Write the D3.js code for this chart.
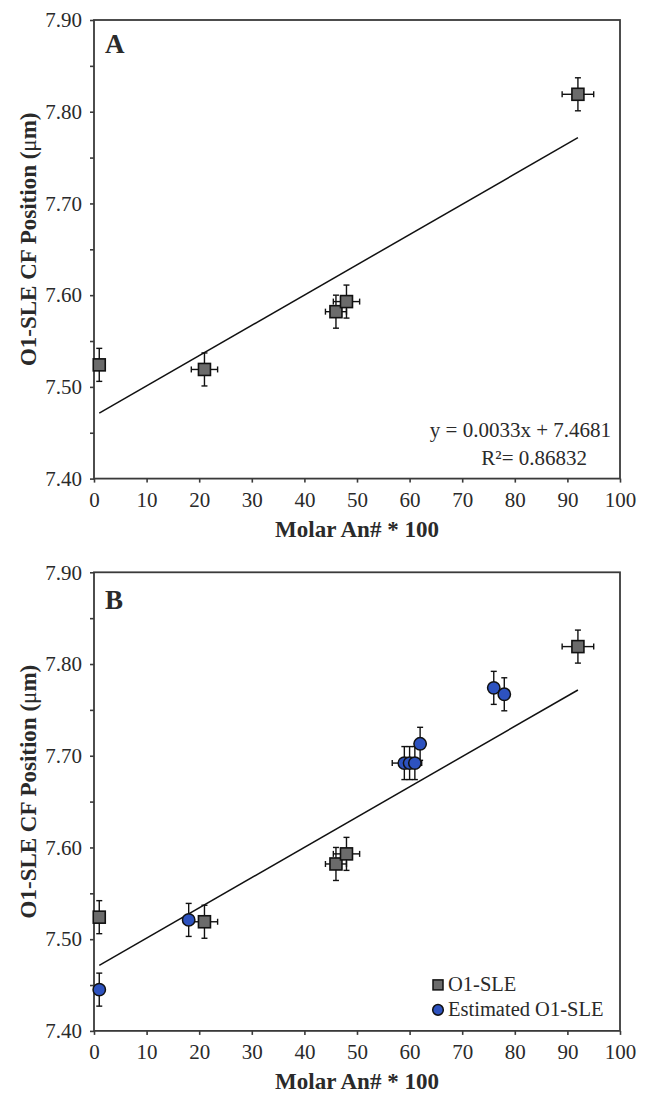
<!DOCTYPE html>
<html>
<head>
<meta charset="utf-8">
<script src="https://cdn.jsdelivr.net/npm/d3@7"></script>
<style>
  html, body { margin: 0; padding: 0; background: #fff; }
  svg { display: block; }
</style>
</head>
<body>
<div id="chart"></div>
<script>
// tick labels
var xTickValues = [0, 10, 20, 30, 40, 50, 60, 70, 80, 90, 100];
var yTickValues = [7.40, 7.50, 7.60, 7.70, 7.80, 7.90];
var yMinorValues = [7.45, 7.55, 7.65, 7.75, 7.85];

// measured O1-SLE (squares)
var measAn = [1, 21, 46, 48, 92];
var measPos = [7.524, 7.519, 7.582, 7.593, 7.819];
var measAnErr = [0, 2.5, 2, 2.5, 3];
var measPosErr = [0.018, 0.018, 0.018, 0.018, 0.018];

// estimated O1-SLE (circles, panel B only)
var estAn = [1, 18, 59, 60, 61, 62, 76, 78];
var estPos = [7.445, 7.521, 7.692, 7.692, 7.692, 7.713, 7.774, 7.767];
var estAnErr = [0, 0, 2.3, 0, 1.3, 0, 0, 0];
var estPosErr = [0.018, 0.018, 0.018, 0.018, 0.018, 0.018, 0.018, 0.018];

// linear fit y = 0.0033x + 7.4681, drawn from first to last measured An
var fitSlope = 0.0033;
var fitIntercept = 7.4681;
var fitRange = [1, 92];
var fitLabels = ["y = 0.0033x + 7.4681", "R\u00b2= 0.86832"];

var legendLabels = ["O1-SLE", "Estimated O1-SLE"];

var W = 649, H = 1094,
	left = 94, right = 620,
	plotH = 458.6,
	serif = "'Liberation Serif', 'Times New Roman', serif",
	axisColor = "#3a3a3a",
	sqFill = "#6b6b6b",
	ciFill = "#2d52bf";

var svg = d3.select("#chart").append("svg")
	.attr("width", W)
	.attr("height", H)
	.attr("font-family", serif);

var x = d3.scaleLinear().domain([0, 100]).range([left, right]);

function measRows() {
	return measAn.map(function (v, i) {
		return {x: v, y: measPos[i], ex: measAnErr[i], ey: measPosErr[i]};
	});
}
function estRows() {
	return estAn.map(function (v, i) {
		return {x: v, y: estPos[i], ex: estAnErr[i], ey: estPosErr[i]};
	});
}

function errorBars(g, rows, y) {
	var cap = 3;
	var eb = g.append("g")
		.attr("stroke", "#111")
		.attr("stroke-width", 1.4)
		.attr("fill", "none");
	rows.forEach(function (d) {
		var cx = x(d.x), cy = y(d.y);
		if (d.ey > 0) {
			var y0 = y(d.y - d.ey), y1 = y(d.y + d.ey);
			eb.append("line").attr("x1", cx).attr("x2", cx).attr("y1", y0).attr("y2", y1);
			eb.append("line").attr("x1", cx - cap).attr("x2", cx + cap).attr("y1", y0).attr("y2", y0);
			eb.append("line").attr("x1", cx - cap).attr("x2", cx + cap).attr("y1", y1).attr("y2", y1);
		}
		if (d.ex > 0) {
			var x0 = x(d.x - d.ex), x1 = x(d.x + d.ex);
			eb.append("line").attr("x1", x0).attr("x2", x1).attr("y1", cy).attr("y2", cy);
			eb.append("line").attr("x1", x0).attr("x2", x0).attr("y1", cy - cap).attr("y2", cy + cap);
			eb.append("line").attr("x1", x1).attr("x2", x1).attr("y1", cy - cap).attr("y2", cy + cap);
		}
	});
}

function drawPanel(top, letter, letterDy, withEstimated) {
	var bottom = top + plotH;
	var y = d3.scaleLinear().domain([7.40, 7.90]).range([bottom, top]);
	var g = svg.append("g");

	// y axis major + minor ticks
	var ya = g.append("g")
		.attr("transform", "translate(" + left + ",0)")
		.call(d3.axisLeft(y).tickValues(yTickValues).tickSize(4).tickPadding(8)
			.tickFormat(d3.format(".2f")));
	g.append("g")
		.attr("transform", "translate(" + left + ",0)")
		.call(d3.axisLeft(y).tickValues(yMinorValues).tickSize(4).tickFormat(""))
		.select(".domain").remove();

	var xa = g.append("g")
		.attr("transform", "translate(0," + bottom + ")")
		.call(d3.axisBottom(x).tickValues(xTickValues).tickSize(4).tickPadding(9)
			.tickFormat(d3.format("d")));

	[ya, xa].forEach(function (a) {
		a.select(".domain").remove();
		a.selectAll("text")
			.attr("font-family", serif)
			.attr("font-size", 21)
			.attr("fill", "#2a2a2a");
	});
	g.selectAll(".tick line").attr("stroke", axisColor).attr("stroke-width", 1.6);

	// frame
	g.append("rect")
		.attr("x", left).attr("y", top)
		.attr("width", right - left).attr("height", plotH)
		.attr("fill", "none")
		.attr("stroke", axisColor)
		.attr("stroke-width", 1.8);

	// axis titles
	g.append("text")
		.attr("x", (left + right) / 2)
		.attr("y", bottom + 58)
		.attr("text-anchor", "middle")
		.attr("font-weight", "bold")
		.attr("font-size", 23)
		.attr("fill", "#2a2a2a")
		.text("Molar An# * 100");

	var yt = g.append("text")
		.attr("transform", "translate(36," + ((top + bottom) / 2 - 10) + ") rotate(-90)")
		.attr("text-anchor", "middle")
		.attr("font-weight", "bold")
		.attr("font-size", 23)
		.attr("fill", "#2a2a2a");
	yt.append("tspan").text("O1-SLE CF Position (");
	yt.append("tspan").attr("font-weight", "normal").text("\u03bc");
	yt.append("tspan").text("m)");

	g.append("text")
		.attr("x", left + 11)
		.attr("y", top + letterDy)
		.attr("font-weight", "bold")
		.attr("font-size", 27)
		.attr("fill", "#2a2a2a")
		.text(letter);

	// trend line
	g.append("line")
		.attr("x1", x(fitRange[0])).attr("y1", y(fitSlope * fitRange[0] + fitIntercept))
		.attr("x2", x(fitRange[1])).attr("y2", y(fitSlope * fitRange[1] + fitIntercept))
		.attr("stroke", "#111")
		.attr("stroke-width", 1.5);

	var meas = measRows();
	errorBars(g, meas, y);
	if (withEstimated) {
		errorBars(g, estRows(), y);
	}

	g.append("g").selectAll("rect")
		.data(meas)
		.join("rect")
		.attr("x", function (d) { return x(d.x) - 6; })
		.attr("y", function (d) { return y(d.y) - 6; })
		.attr("width", 12).attr("height", 12)
		.attr("fill", sqFill)
		.attr("stroke", "#111")
		.attr("stroke-width", 1.6);

	if (withEstimated) {
		g.append("g").selectAll("circle")
			.data(estRows())
			.join("circle")
			.attr("cx", function (d) { return x(d.x); })
			.attr("cy", function (d) { return y(d.y); })
			.attr("r", 6.2)
			.attr("fill", ciFill)
			.attr("stroke", "#111")
			.attr("stroke-width", 1.5);

		// legend
		var lg = g.append("g").attr("transform", "translate(438," + (bottom - 46) + ")");
		lg.append("rect")
			.attr("x", -5).attr("y", -5).attr("width", 10).attr("height", 10)
			.attr("fill", sqFill).attr("stroke", "#111").attr("stroke-width", 1.5);
		lg.append("circle")
			.attr("cx", 0).attr("cy", 25).attr("r", 5.3)
			.attr("fill", ciFill).attr("stroke", "#111").attr("stroke-width", 1.5);
		lg.selectAll("text")
			.data(legendLabels)
			.join("text")
			.attr("x", 10)
			.attr("y", function (d, i) { return 6.5 + i * 25; })
			.attr("font-size", 20.5)
			.attr("fill", "#2a2a2a")
			.text(function (d) { return d; });
	} else {
		g.append("text")
			.attr("x", 611).attr("y", bottom - 42)
			.attr("text-anchor", "end")
			.attr("font-size", 21)
			.attr("fill", "#2a2a2a")
			.text(fitLabels[0]);
		g.append("text")
			.attr("x", 587).attr("y", bottom - 14)
			.attr("text-anchor", "end")
			.attr("font-size", 21)
			.attr("fill", "#2a2a2a")
			.text(fitLabels[1]);
	}
}

drawPanel(20, "A", 32.5, false);
drawPanel(572.3, "B", 37, true);
</script>
</body>
</html>
